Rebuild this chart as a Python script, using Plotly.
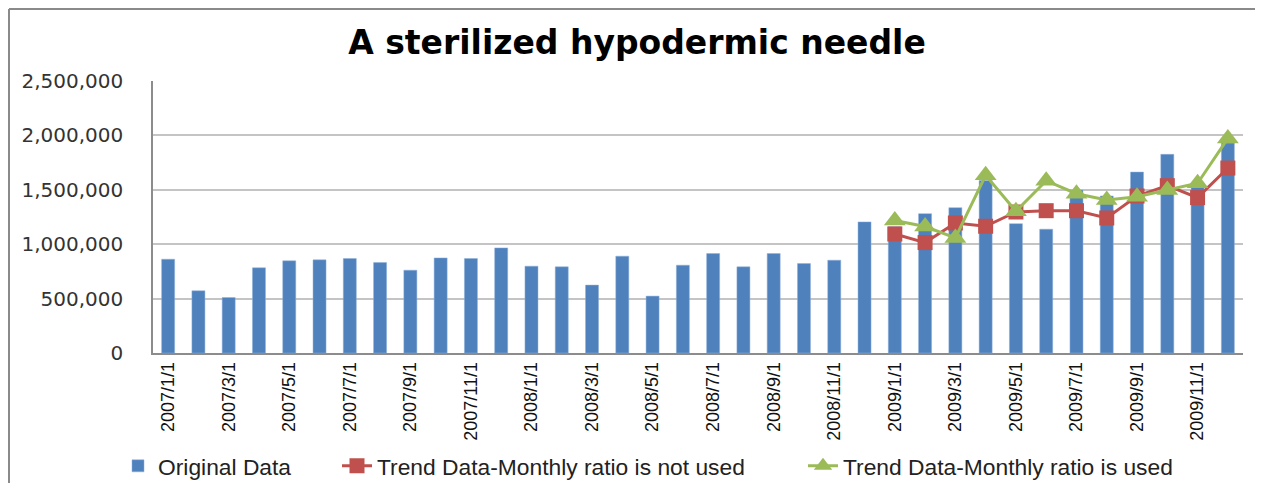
import plotly.graph_objects as go

months = [f"{y}/{m}/1" for y in (2007, 2008, 2009) for m in range(1, 13)]

original = [862000, 572000, 510000, 783000, 847000, 856000, 868000, 831000, 761000, 874000,
            868000, 966000, 798000, 792000, 624000, 890000, 523000, 807000, 914000, 792000,
            914000, 822000, 853000, 1205000,
            1160000, 1281000, 1336000, 1585000, 1189000, 1138000, 1498000, 1443000,
            1663000, 1826000, 1560000, 1930000]

trend_months = months[24:]
trend_no_ratio = [1094000, 1015000, 1195000, 1165000, 1296000, 1308000, 1308000, 1241000,
                  1443000, 1538000, 1428000, 1700000]
trend_ratio = [1217000, 1162000, 1058000, 1633000, 1303000, 1584000, 1464000, 1406000,
               1437000, 1498000, 1560000, 1972000]

tick_labels = months[::2]

# page body has an 8px default margin; keep the figure inside the viewport
OFF = 8
W, H = 1265 - 2 * OFF, 491 - 2 * OFF
PL, PR, PT, PB = 153 - OFF, 1243 - OFF, 81 - OFF, 353 - OFF


def px_x(x):
    return (x - OFF) / W


def px_y(y):
    return 1 - (y - OFF) / H


fig = go.Figure()
fig.add_trace(go.Bar(x=months, y=original, name="Original Data",
                     marker=dict(color="#4F81BD", line=dict(color="#8EB0DB", width=0.5)),
                     legend="legend"))
fig.add_trace(go.Scatter(x=trend_months, y=trend_no_ratio, mode="lines+markers",
                         name="Trend Data-Monthly ratio is not used",
                         line=dict(color="#C0504D", width=3),
                         marker=dict(symbol="square", size=15, color="#C0504D"),
                         legend="legend2"))
fig.add_trace(go.Scatter(x=trend_months, y=trend_ratio, mode="lines+markers",
                         name="Trend Data-Monthly ratio is used",
                         line=dict(color="#9BBB59", width=3),
                         marker=dict(symbol="triangle-up", size=19, color="#9BBB59"),
                         legend="legend3"))

legend_font = dict(family="Liberation Sans, Arial, sans-serif", size=22.8, color="#222222")
common_legend = dict(orientation="h", xref="container", yref="container",
                     yanchor="middle", y=px_y(466), xanchor="left",
                     font=legend_font, bgcolor="rgba(0,0,0,0)", borderwidth=0)

pw = PR - PL
ph = PB - PT
bx0 = (9 - 153) / pw
bx1 = (1255 - 153) / pw
by0 = (353 - 485) / ph
by1 = (353 - 9) / ph

fig.update_layout(
    width=W, height=H,
    showlegend=True,
    margin=dict(l=PL, r=W - PR, t=PT, b=H - PB, autoexpand=False),
    paper_bgcolor="white", plot_bgcolor="white",
    title=dict(text="<b>A sterilized hypodermic needle</b>", x=px_x(637), xanchor="center",
               xref="container", yref="container", y=px_y(42), yanchor="middle",
               font=dict(family="DejaVu Sans, Verdana, sans-serif", size=33, color="#000000")),
    bargap=0.57,
    legend=dict(x=px_x(118), **common_legend),
    legend2=dict(x=px_x(337), **common_legend),
    legend3=dict(x=px_x(803), **common_legend),
    xaxis=dict(type="category", categoryorder="array", categoryarray=months,
               range=[-0.5, 35.5],
               tickmode="array", tickvals=tick_labels, ticktext=tick_labels,
               tickangle=-90, ticks="", showgrid=False,
               showline=True, linecolor="#8c8c8c", linewidth=1.5,
               tickfont=dict(family="Liberation Sans, Arial, sans-serif", size=18, color="#111111")),
    yaxis=dict(range=[0, 2500000], dtick=500000, tickformat=",d",
               showgrid=True, gridcolor="#c4c4c4", gridwidth=1.5,
               showline=True, linecolor="#8c8c8c", linewidth=1.5,
               zeroline=False, ticks="", ticklabelstandoff=24,
               tickfont=dict(family="DejaVu Sans, Verdana, sans-serif", size=20, color="#333333")),
    shapes=[
        dict(type="line", xref="paper", yref="paper", x0=bx0, x1=bx0, y0=by0, y1=by1,
             line=dict(color="#8a8a8a", width=2), layer="below"),
        dict(type="line", xref="paper", yref="paper", x0=bx0, x1=bx1, y0=by1, y1=by1,
             line=dict(color="#8a8a8a", width=2), layer="below"),
    ],
)

fig.write_html("out.html")
